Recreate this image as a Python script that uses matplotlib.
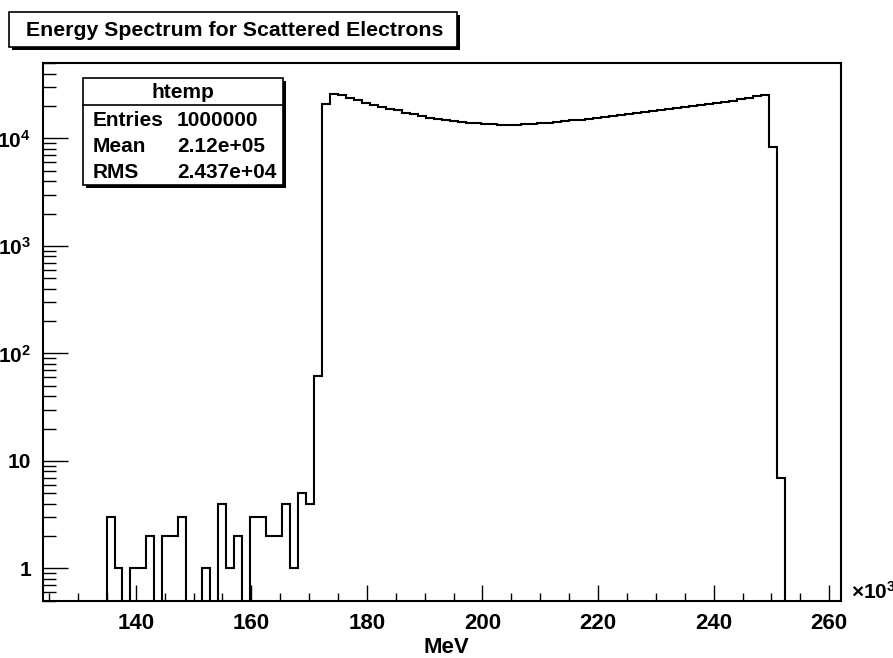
import numpy as np
import matplotlib
matplotlib.use("Agg")
import matplotlib.pyplot as plt
from matplotlib.patches import Rectangle
from matplotlib.lines import Line2D
from matplotlib.ticker import LogLocator, MultipleLocator, FuncFormatter, NullFormatter

plt.rcParams['font.family'] = ['Liberation Sans', 'DejaVu Sans']
plt.rcParams['font.weight'] = 'bold'
plt.rcParams['mathtext.fontset'] = 'custom'
plt.rcParams['mathtext.rm'] = 'Liberation Sans:bold'
plt.rcParams['mathtext.bf'] = 'Liberation Sans:bold'

# htemp: energy of scattered electrons, x in units of 10^3 MeV
x_min = 123.9
x_max = 261.95
n_bins = 100
counts = [0, 0, 0, 0, 0, 0, 0, 0, 3, 1,
          0, 1, 1, 2, 0, 2, 2, 3, 0, 0,
          1, 0, 4, 1, 2, 0, 3, 3, 2, 2,
          4, 1, 5, 4, 62, 21100, 26150, 25220, 24010, 22660,
          21560, 20650, 19620, 18790, 18270, 17400, 16770, 16170, 15630, 15300,
          14970, 14530, 14220, 14040, 13820, 13620, 13510, 13470, 13440, 13440,
          13480, 13650, 13790, 13990, 14200, 14450, 14690, 14970, 15250, 15550,
          15850, 16170, 16470, 16790, 17120, 17480, 17860, 18250, 18650, 19060,
          19480, 19900, 20420, 20900, 21400, 21950, 22520, 23110, 23770, 24800,
          25100, 8300, 7, 0, 0, 0, 0, 0, 0, 0]

title = "Energy Spectrum for Scattered Electrons"
stat_name = "htemp"
stat_labels = ["Entries", "Mean", "RMS"]
stat_values = ["1000000", "2.12e+05", "2.437e+04"]

W, H = 893, 658
fig = plt.figure(figsize=(W / 100, H / 100), dpi=100)


def fx(px):
    return px / W


def fy(py):
    return 1 - py / H


def box(x0, y0, x1, y1, shadow=3):
    # white box with a drop shadow on the right/bottom, pixel coords from top-left
    sh = Rectangle((fx(x0 + shadow), fy(y1 + shadow)), (x1 - x0) / W, (y1 - y0) / H,
                   transform=fig.transFigure, facecolor='black', edgecolor='black',
                   linewidth=0, zorder=5)
    bx = Rectangle((fx(x0), fy(y1)), (x1 - x0) / W, (y1 - y0) / H,
                   transform=fig.transFigure, facecolor='white', edgecolor='black',
                   linewidth=1.2, zorder=6)
    fig.add_artist(sh)
    fig.add_artist(bx)


ax = fig.add_axes([fx(42.7), fy(600.7), fx(840.5) - fx(42.7), fy(63.3) - fy(600.7)])
edges = np.linspace(x_min, x_max, n_bins + 1)
ax.stairs(counts, edges, color='black', linewidth=1.5, baseline=None)

ax.set_yscale('log')
ax.set_xlim(x_min, x_max)
ax.set_ylim(0.5, 5e4)

for s in ax.spines.values():
    s.set_linewidth(1.5)

ax.xaxis.set_major_locator(MultipleLocator(20))
ax.xaxis.set_minor_locator(MultipleLocator(5))
ax.xaxis.set_major_formatter(FuncFormatter(lambda v, p: '%d' % round(v)))
ax.yaxis.set_major_locator(LogLocator(base=10, numticks=10))
ax.yaxis.set_minor_locator(LogLocator(base=10, subs=np.arange(2, 10), numticks=20))
ax.yaxis.set_minor_formatter(NullFormatter())


def ylab(v, pos):
    e = int(round(np.log10(v)))
    if e == 0:
        return '1'
    if e == 1:
        return '10'
    return r'$\mathbf{10^{%d}}$' % e


ax.yaxis.set_major_formatter(FuncFormatter(ylab))

ax.tick_params(axis='both', which='both', direction='in', top=False, right=False, width=1)
ax.tick_params(axis='x', which='major', length=11.5, labelsize=16, pad=8.5)
ax.tick_params(axis='x', which='minor', length=5.5)
ax.tick_params(axis='y', which='major', length=18, labelsize=15, pad=8.5)
ax.tick_params(axis='y', which='minor', length=9)

ax.set_xlabel("MeV", fontsize=16, fontweight='bold')
ax.xaxis.set_label_coords((446 - 42.7) / 797.8, (600.7 - 637) / 537.4)

fig.text(fx(851), fy(592), r'$\times\mathbf{10^{3}}$', fontsize=15, ha='left', va='center')

# title box
box(9, 12.3, 457, 46.7)
fig.text(fx(235), fy(31), title, fontsize=15.3, ha='center', va='center', zorder=7)

# stats box
box(82.7, 78.3, 282.7, 185)
fig.add_artist(Line2D([fx(82.7), fx(282.7)], [fy(105), fy(105)], transform=fig.transFigure,
                      color='black', linewidth=1.2, zorder=7))
fig.text(fx(182.7), fy(93), stat_name, fontsize=15, ha='center', va='center', zorder=7)
for i, (lab, val) in enumerate(zip(stat_labels, stat_values)):
    yy = 120.7 + 26 * i
    fig.text(fx(93), fy(yy), lab, fontsize=15, ha='left', va='center', zorder=7)
    fig.text(fx(177), fy(yy), val, fontsize=15, ha='left', va='center', zorder=7)

fig.savefig("out.png", dpi=100)
